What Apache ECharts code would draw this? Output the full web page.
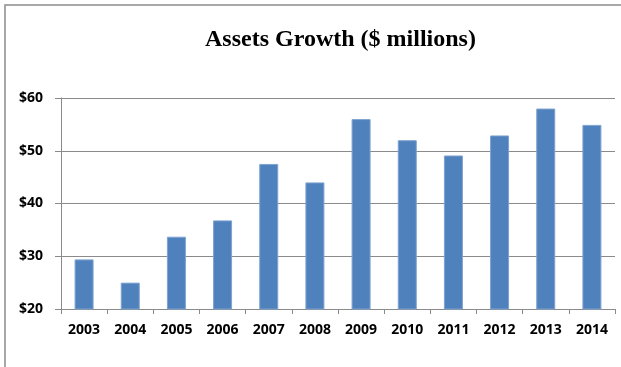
<!DOCTYPE html>
<html>
<head>
<meta charset="utf-8">
<style>
  html, body { margin: 0; padding: 0; background: #fff; }
  #chart { width: 621px; height: 367px; }
</style>
<script src="https://cdn.jsdelivr.net/npm/echarts@6/dist/echarts.min.js"></script>
</head>
<body>
<div id="chart"></div>
<script>
// Total assets by year, in $ millions
const years = ['2003', '2004', '2005', '2006', '2007', '2008', '2009', '2010', '2011', '2012', '2013', '2014'];
const assets = [29.4, 25.0, 33.7, 36.8, 47.5, 44.0, 56.0, 52.0, 49.1, 52.9, 58.0, 54.9];
const yTicks = { min: 20, max: 60, step: 10 };

const labelFont = { fontFamily: 'Open Sans', fontWeight: 'bold', fontSize: 14, color: '#000' };
const lineGray = '#8a8a8a';

const chart = echarts.init(document.getElementById('chart'), null, { renderer: 'canvas' });
chart.setOption({
  animation: false,
  backgroundColor: '#fff',
  title: {
    text: 'Assets Growth ($ millions)',
    left: 205,
    top: 28,
    padding: 0,
    textStyle: { fontFamily: 'Liberation Serif', fontWeight: 'bold', fontSize: 24, color: '#000' }
  },
  graphic: [{
    type: 'rect',
    shape: { x: 5, y: 5, width: 700, height: 500 },
    style: { fill: 'none', stroke: '#8c8c8c', lineWidth: 1.5 },
    silent: true
  }],
  grid: { left: 61, right: 6, top: 98, bottom: 58, containLabel: false },
  xAxis: {
    type: 'category',
    data: years,
    axisLine: { lineStyle: { color: lineGray, width: 1 } },
    axisTick: { show: true, length: 5, lineStyle: { color: lineGray } },
    axisLabel: Object.assign({ margin: 14, interval: 0 }, labelFont)
  },
  yAxis: {
    type: 'value',
    min: yTicks.min,
    max: yTicks.max,
    interval: yTicks.step,
    axisLine: { show: true, lineStyle: { color: lineGray, width: 1 } },
    axisTick: { show: true, length: 6, lineStyle: { color: lineGray } },
    splitLine: { lineStyle: { color: lineGray, width: 1 } },
    axisLabel: Object.assign({ margin: 18, formatter: v => '$' + v }, labelFont)
  },
  series: [{
    type: 'bar',
    data: assets,
    barWidth: 19,
    itemStyle: { color: '#4F81BD', borderColor: '#7fa3d0', borderWidth: 1 }
  }]
});
</script>
</body>
</html>
